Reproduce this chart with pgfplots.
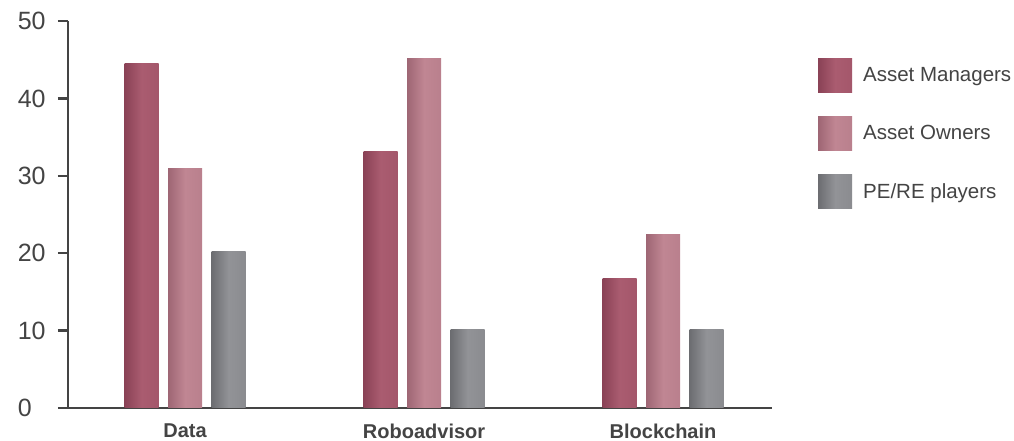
\documentclass[border=0pt]{standalone}
\usepackage{pgfplots}
\pgfplotsset{compat=1.18}
\usepackage{fontspec}
\setmainfont{Liberation Sans}

\definecolor{amc}{HTML}{AA5C70}
\definecolor{amd}{HTML}{8A4256}
\definecolor{aoc}{HTML}{C08693}
\definecolor{aod}{HTML}{9E6674}
\definecolor{pec}{HTML}{929397}
\definecolor{ped}{HTML}{6C6D71}
\definecolor{axc}{HTML}{444444}

\pgfplotsset{
  am/.style={draw=none, left color=amd, right color=amc!80!amd, middle color=amc, bar shift=-43.5pt},
  ao/.style={draw=none, left color=aod, right color=aoc!80!aod, middle color=aoc, bar shift=0pt},
  pe/.style={draw=none, left color=ped, right color=pec!80!ped, middle color=pec, bar shift=43.5pt},
}

\begin{document}
\begin{tikzpicture}
\begin{axis}[
    name=ax,
    scale only axis,
    width=704pt, height=387pt,
    ybar, bar width=34pt,
    ymin=0, ymax=50,
    xmin=-0.49, xmax=2.456,
    xtick={0,1,2},
    xticklabels={Data, Roboadvisor, Blockchain},
    ytick={0,10,20,30,40,50},
    axis x line=bottom, axis y line=left,
    axis line style={axc, line width=2.3pt, -},
    x tick label style={font=\fontsize{20}{22}\selectfont\bfseries, text=axc, yshift=-2pt},
    y tick label style={font=\fontsize{25}{28}\selectfont, text=axc,
        text width=30pt, align=left, inner sep=0pt, anchor=east, xshift=-10pt},
    xtick style={draw=none},
    ytick style={axc, line width=2.3pt},
    tick align=outside,
    major tick length=10pt,
    /pgf/number format/assume math mode=true,
    legend style={draw=none, at={(1.061,0.909)}, anchor=north west,
        font=\fontsize{20.5}{22}\selectfont, text=axc,
        row sep=24pt, column sep=9pt},
    legend cell align=left,
    legend image code/.code={\fill[#1] (0pt,-17pt) rectangle (34pt,17pt);},
]
% Asset Managers
\addplot[am, forget plot] coordinates {(0,44.5)};
\addplot[am, forget plot] coordinates {(1,33.1)};
\addplot[am, forget plot] coordinates {(2,16.7)};
% Asset Owners
\addplot[ao, forget plot] coordinates {(0,31.0)};
\addplot[ao, forget plot] coordinates {(1,45.1)};
\addplot[ao, forget plot] coordinates {(2,22.4)};
% PE/RE players
\addplot[pe, forget plot] coordinates {(0,20.2)};
\addplot[pe, forget plot] coordinates {(1,10.2)};
\addplot[pe, forget plot] coordinates {(2,10.2)};

\addlegendimage{am}
\addlegendentry{Asset Managers}
\addlegendimage{ao}
\addlegendentry{Asset Owners}
\addlegendimage{pe}
\addlegendentry{PE/RE players}
\end{axis}
% fix the page to the reference's frame
\pgfresetboundingbox
\useasboundingbox ([shift={(-68pt,-33pt)}]ax.south west) rectangle ([shift={(242pt,21pt)}]ax.north east);
\end{tikzpicture}
\end{document}
